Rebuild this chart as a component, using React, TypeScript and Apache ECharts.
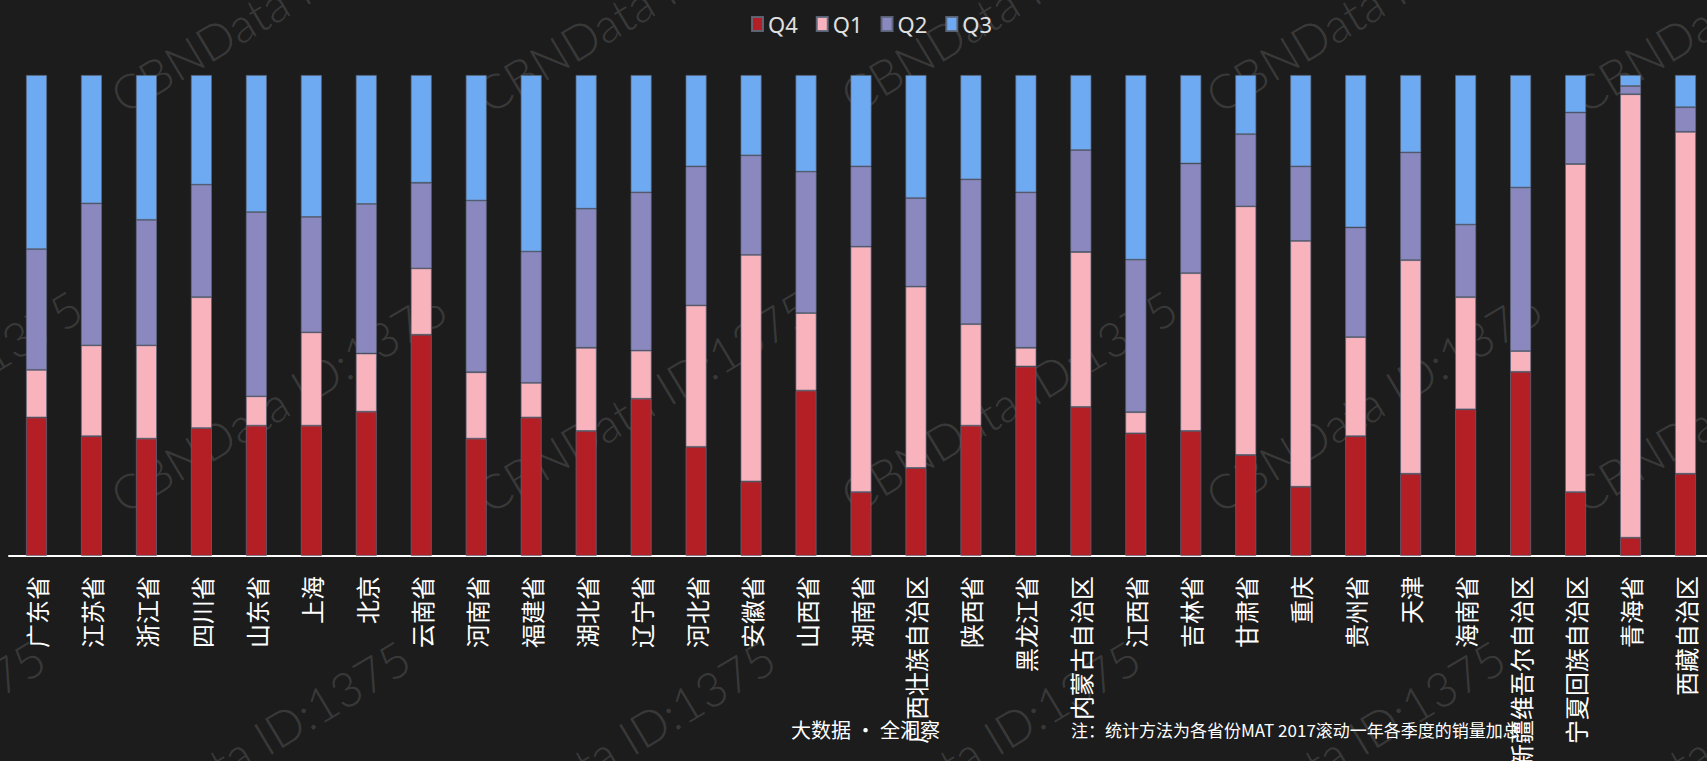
import React, { useEffect, useRef } from "react";
import * as echarts from "echarts";

const categories = [
  "广东省", "江苏省", "浙江省", "四川省", "山东省", "上海", "北京", "云南省",
  "河南省", "福建省", "湖北省", "辽宁省", "河北省", "安徽省", "山西省", "湖南省",
  "广西壮族自治区", "陕西省", "黑龙江省", "内蒙古自治区", "江西省", "吉林省",
  "甘肃省", "重庆", "贵州省", "天津", "海南省", "新疆维吾尔自治区",
  "宁夏回族自治区", "青海省", "西藏自治区",
];

const q4 = [28.8, 24.9, 24.4, 26.6, 27.1, 27.1, 30.0, 46.0, 24.4, 28.8, 26.0, 32.7, 22.7, 15.5, 34.4, 13.3, 18.3, 27.1, 39.4, 31.0, 25.5, 26.0, 21.0, 14.4, 24.9, 17.1, 30.5, 38.3, 13.3, 3.8, 17.1];
const q1 = [9.9, 18.9, 19.4, 27.2, 6.1, 19.4, 12.1, 13.8, 13.8, 7.2, 17.3, 10.0, 29.4, 47.1, 16.1, 51.0, 37.7, 21.1, 3.9, 32.2, 4.4, 32.8, 51.7, 51.1, 20.6, 44.4, 23.3, 4.3, 68.2, 92.2, 71.1];
const q2 = [25.1, 29.5, 26.1, 23.4, 38.3, 24.0, 31.1, 17.8, 35.7, 27.3, 28.9, 32.9, 28.9, 20.7, 29.4, 16.7, 18.4, 30.1, 32.3, 21.2, 31.7, 22.8, 15.0, 15.5, 22.8, 22.4, 15.1, 34.0, 10.7, 1.7, 5.1];
const q3 = [36.2, 26.7, 30.1, 22.8, 28.5, 29.5, 26.8, 22.4, 26.1, 36.7, 27.8, 24.4, 19.0, 16.7, 20.1, 19.0, 25.6, 21.7, 24.4, 15.6, 38.4, 18.4, 12.3, 19.0, 31.7, 16.1, 31.1, 23.4, 7.8, 2.3, 6.7];

const seriesNames = ["Q4", "Q1", "Q2", "Q3"];
const seriesData = [q4, q1, q2, q3];
const seriesColors = ["#b31f24", "#f8b3bd", "#8b88bf", "#6eaaf2"];

const footerLeft = "大数据 · 全洞察";
const footerNote = "注：统计方法为各省份MAT 2017滚动一年各季度的销量加总";
const watermarkText = "CBNData ID:1375";

export default function App() {
  const ref = useRef<HTMLDivElement>(null);

  useEffect(() => {
    document.body.style.margin = "0";
    const chart = echarts.init(ref.current!, undefined, { renderer: "svg" });

    const wmRows = [
      { y: 120, xs: [-238, 127, 492, 857, 1222, 1587] },
      { y: 520, xs: [-238, 127, 492, 857, 1222, 1587] },
      { y: 870, xs: [-275, 90, 455, 820, 1185, 1550] },
    ];
    const watermarks: any[] = [];
    wmRows.forEach((row) =>
      row.xs.forEach((x) =>
        watermarks.push({
          type: "text",
          x,
          y: row.y,
          rotation: (31 * Math.PI) / 180,
          silent: true,
          z: -10,
          style: {
            text: watermarkText,
            fill: "rgba(255,255,255,0.14)",
            fontSize: 48,
            fontFamily: "Lato",
            fontWeight: 300,
            textAlign: "left",
            textVerticalAlign: "bottom",
          },
        })
      )
    );

    chart.setOption({
      animation: false,
      backgroundColor: "#1c1c1c",
      legend: {
        data: seriesNames,
        left: 746,
        top: 8,
        itemWidth: 11,
        itemHeight: 14,
        itemGap: 18,
        icon: "rect",
        textStyle: { color: "#e0e0e0", fontSize: 22, fontFamily: "Noto Sans" },
      },
      grid: {
        left: 9,
        right: -6,
        top: 75,
        bottom: 205,
        containLabel: false,
        outerBoundsMode: "none",
      },
      xAxis: {
        type: "category",
        data: categories,
        axisTick: { show: false },
        axisLine: { lineStyle: { color: "#ffffff", width: 2 } },
        axisLabel: {
          interval: 0,
          rotate: 90,
          margin: 20,
          color: "#ffffff",
          fontSize: 24,
          fontFamily: "Noto Sans CJK SC",
        },
      },
      yAxis: { type: "value", min: 0, max: 100, show: false },
      series: seriesNames.map((name, i) => ({
        name,
        type: "bar",
        stack: "total",
        barWidth: 21,
        data: seriesData[i],
        itemStyle: {
          color: seriesColors[i],
          borderColor: "rgba(95,105,125,0.9)",
          borderWidth: 0.8,
        },
      })),
      graphic: [
        ...watermarks,
        {
          type: "text",
          x: 791,
          y: 729,
          z: 10,
          style: {
            text: footerLeft,
            fill: "#ffffff",
            fontSize: 20,
            fontFamily: "Noto Sans CJK SC",
            textVerticalAlign: "middle",
          },
        },
        {
          type: "text",
          x: 1071,
          y: 729,
          z: 10,
          style: {
            text: footerNote,
            fill: "#ffffff",
            fontSize: 17,
            fontFamily: "Noto Sans CJK SC",
            textVerticalAlign: "middle",
          },
        },
      ],
    });

    return () => chart.dispose();
  }, []);

  return (
    <div
      ref={ref}
      style={{ position: "fixed", left: 0, top: 0, width: 1707, height: 761 }}
    />
  );
}
